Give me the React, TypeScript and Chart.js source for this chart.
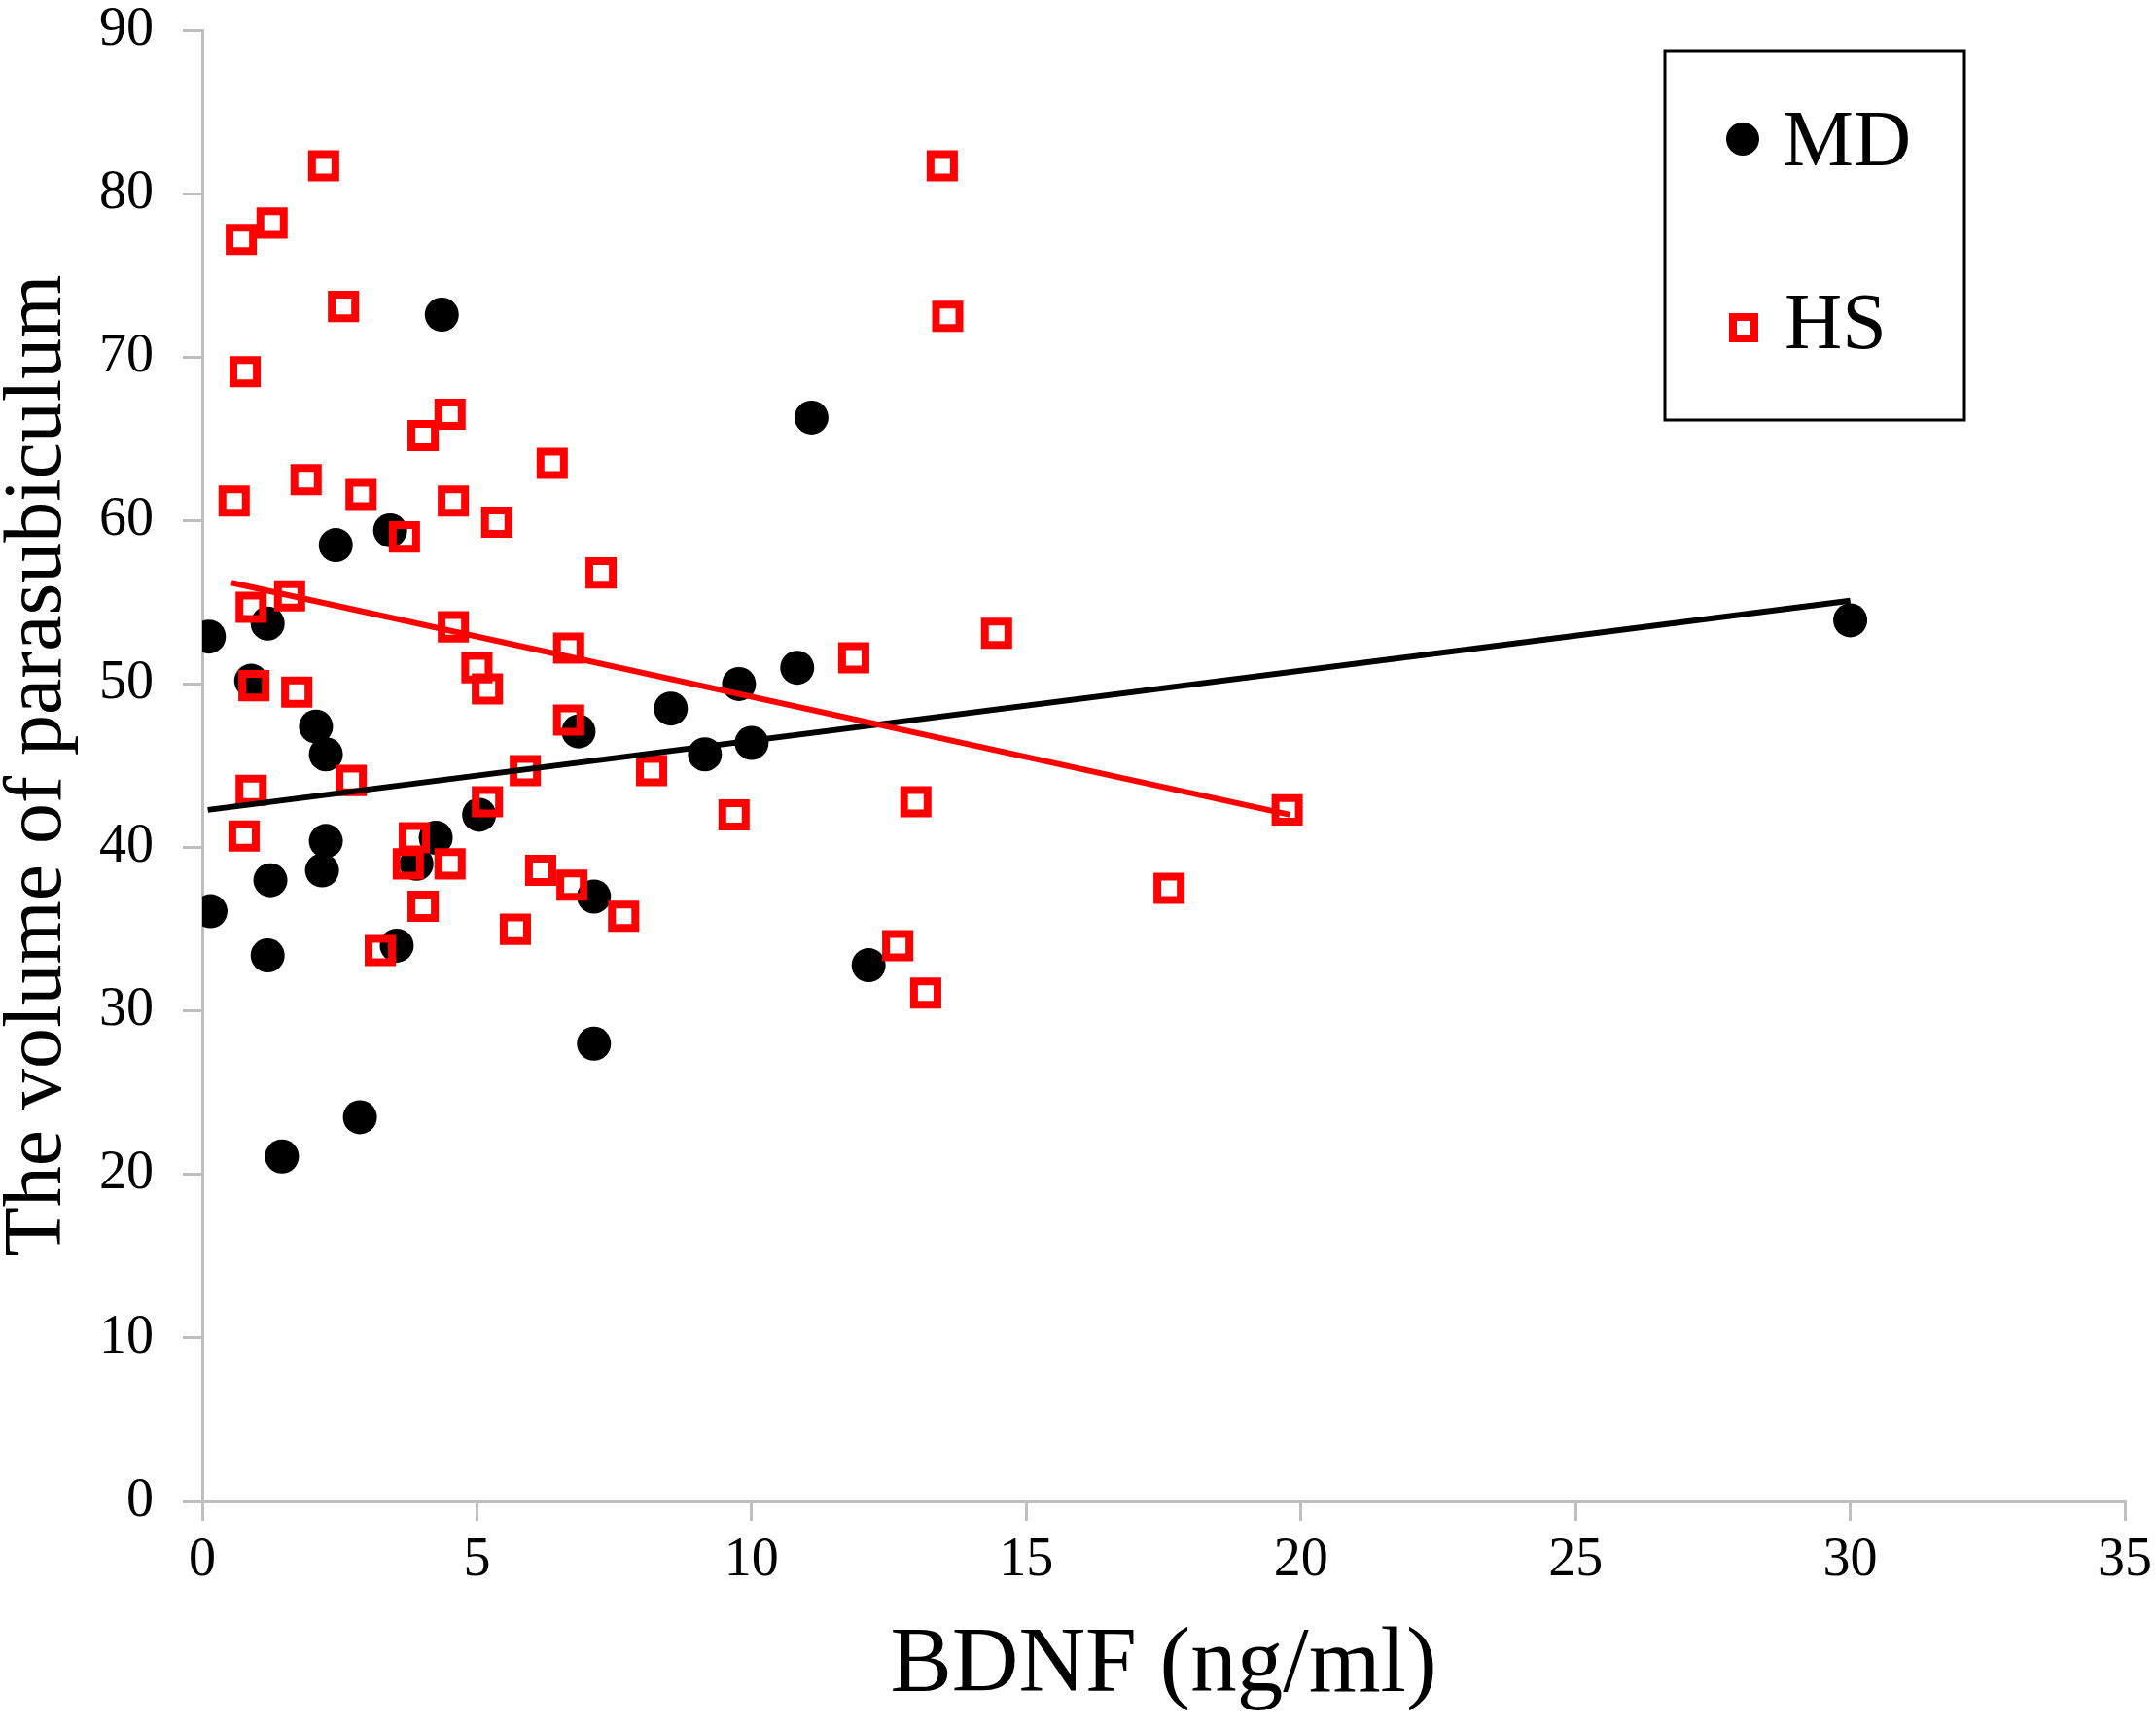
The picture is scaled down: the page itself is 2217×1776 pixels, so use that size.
import { useEffect, useRef } from "react";
import { Chart, registerables } from "chart.js";

Chart.register(...registerables);

// MD group (black dots)
const mdX = [0.12, 0.15, 0.89, 1.19, 1.24, 1.19, 1.45, 2.07, 2.25, 2.25, 2.18, 2.43, 2.87, 3.42, 3.54, 4.25, 3.9, 4.36, 5.04, 6.85, 7.13, 7.13, 8.53, 9.15, 9.77, 10.0, 10.83, 11.09, 12.13, 30.0];
const mdY = [52.9, 36.1, 50.2, 53.7, 38.0, 33.4, 21.1, 47.4, 45.7, 40.4, 38.6, 58.5, 23.5, 59.4, 34.0, 40.6, 39.0, 72.6, 42.0, 47.1, 37.0, 28.0, 48.5, 45.7, 50.0, 46.4, 51.0, 66.3, 32.8, 53.9];

// HS group (red squares)
const hsX = [0.71, 1.27, 2.21, 0.78, 2.57, 0.58, 1.89, 2.89, 3.68, 4.02, 4.51, 4.57, 5.36, 6.37, 7.26, 0.89, 1.59, 0.94, 1.72, 4.57, 5.0, 5.19, 6.67, 6.67, 0.89, 0.76, 2.71, 5.88, 5.19, 3.86, 3.75, 4.51, 4.02, 3.24, 6.16, 6.73, 7.67, 5.7, 8.18, 9.68, 11.86, 12.99, 12.66, 13.17, 13.47, 13.57, 14.46, 17.6, 19.75];
const hsY = [77.2, 78.2, 81.7, 69.1, 73.1, 61.2, 62.5, 61.6, 59.0, 65.2, 66.5, 61.2, 59.9, 63.5, 56.8, 54.7, 55.4, 49.9, 49.5, 53.5, 51.0, 49.7, 52.2, 47.8, 43.5, 40.7, 44.1, 44.7, 42.8, 40.6, 39.0, 39.0, 36.4, 33.7, 38.6, 37.7, 35.8, 35.0, 44.7, 42.0, 51.6, 42.8, 34.0, 31.1, 81.7, 72.5, 53.1, 37.5, 42.3];

// linear trend lines (end points)
const mdTrendX = [0.1, 30];
const mdTrendY = [42.3, 55.1];
const hsTrendX = [0.53, 19.8];
const hsTrendY = [56.2, 42.0];

const legendLabels = ["MD", "HS"];

const FONT = "'Liberation Serif', 'Times New Roman', serif";

const toPoints = (xs: number[], ys: number[]) => xs.map((x, i) => ({ x, y: ys[i] }));

// draws the boxed legend in the upper right corner
const boxLegend = {
  id: "boxLegend",
  afterDraw(chart: Chart) {
    const ctx = chart.ctx;
    ctx.save();
    ctx.strokeStyle = "#000";
    ctx.lineWidth = 3;
    ctx.strokeRect(1712, 52, 308, 380);

    ctx.fillStyle = "#000";
    ctx.beginPath();
    ctx.arc(1792, 143, 17, 0, Math.PI * 2);
    ctx.fill();

    ctx.strokeStyle = "#ff0000";
    ctx.lineWidth = 8;
    ctx.strokeRect(1782, 326, 22, 22);

    ctx.fillStyle = "#000";
    ctx.font = `82px ${FONT}`;
    ctx.textBaseline = "alphabetic";
    ctx.textAlign = "left";
    ctx.fillText(legendLabels[0], 1833, 170);
    ctx.fillText(legendLabels[1], 1835, 358);
    ctx.restore();
  },
};

const ScatterChart = () => {
  const chartRef = useRef<HTMLCanvasElement>(null);

  useEffect(() => {
    document.body.style.margin = "0";
    document.body.style.overflow = "hidden";
    if (!chartRef.current) return;
    const ctx = chartRef.current.getContext("2d");
    if (!ctx) return;

    const chart = new Chart(ctx, {
      type: "scatter",
      data: {
        datasets: [
          {
            label: "HS trend",
            data: toPoints(hsTrendX, hsTrendY),
            showLine: true,
            borderColor: "#ff0000",
            borderWidth: 6,
            pointRadius: 0,
            order: 0,
          },
          {
            label: "MD trend",
            data: toPoints(mdTrendX, mdTrendY),
            showLine: true,
            borderColor: "#000000",
            borderWidth: 6,
            pointRadius: 0,
            order: 1,
          },
          {
            label: "HS",
            data: toPoints(hsX, hsY),
            pointStyle: "rect",
            pointRadius: 17,
            pointBorderWidth: 8,
            pointBorderColor: "#ff0000",
            pointBackgroundColor: "rgba(0,0,0,0)",
            order: 2,
          },
          {
            label: "MD",
            data: toPoints(mdX, mdY),
            pointStyle: "circle",
            pointRadius: 17.5,
            pointBorderWidth: 0,
            pointBackgroundColor: "#000000",
            order: 3,
          },
        ],
      },
      options: {
        responsive: true,
        maintainAspectRatio: false,
        animation: false,
        layout: { padding: { top: 31, right: 32, left: 0, bottom: 0 } },
        plugins: {
          legend: { display: false },
          tooltip: { enabled: false },
        },
        scales: {
          x: {
            type: "linear",
            min: 0,
            max: 35,
            afterFit: (scale) => {
              scale.height = 232;
              scale.paddingLeft = 0;
              scale.paddingRight = 0;
            },
            ticks: {
              stepSize: 5,
              color: "#000",
              padding: 10,
              font: { family: FONT, size: 56, lineHeight: 1.1 },
            },
            grid: {
              drawOnChartArea: false,
              color: "#bfbfbf",
              lineWidth: 3,
              tickLength: 20,
            },
            border: { color: "#bfbfbf", width: 3 },
            title: {
              display: true,
              text: "BDNF (ng/ml)",
              color: "#000",
              font: { family: FONT, size: 95, lineHeight: 1.2 },
              padding: { top: 0, bottom: 5 },
            },
          },
          y: {
            type: "linear",
            min: 0,
            max: 90,
            afterFit: (scale) => {
              scale.width = 208;
              scale.paddingTop = 0;
              scale.paddingBottom = 0;
            },
            ticks: {
              stepSize: 10,
              color: "#000",
              padding: 30,
              font: { family: FONT, size: 56, lineHeight: 1.1 },
            },
            grid: {
              drawOnChartArea: false,
              color: "#bfbfbf",
              lineWidth: 3,
              tickLength: 20,
            },
            border: { color: "#bfbfbf", width: 3 },
            title: {
              display: true,
              text: "The volume of parasubiculum",
              color: "#000",
              font: { family: FONT, size: 84, lineHeight: 0.9 },
              padding: { top: 2, bottom: 0 },
            },
          },
        },
      },
      plugins: [boxLegend],
    });

    // destroy on unmount
    return () => chart.destroy();
  }, []);

  return (
    <div style={{ width: 2217, height: 1776, position: "relative" }}>
      <canvas ref={chartRef}></canvas>
    </div>
  );
};

export default function App() {
  return <ScatterChart />;
}
